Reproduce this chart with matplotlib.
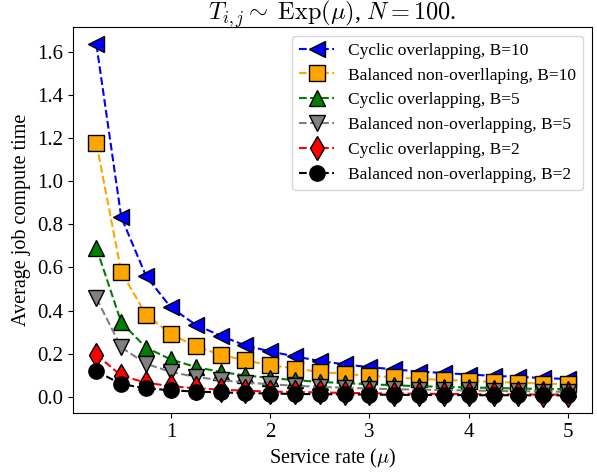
import numpy as np
import matplotlib
matplotlib.use('Agg')
import matplotlib.pyplot as plt

plt.rcParams['font.family'] = ['Liberation Serif', 'DejaVu Serif']
plt.rcParams['mathtext.fontset'] = 'cm'

# service rates mu
mu = [0.25, 0.5, 0.75, 1.0, 1.25, 1.5, 1.75, 2.0, 2.25, 2.5,
      2.75, 3.0, 3.25, 3.5, 3.75, 4.0, 4.25, 4.5, 4.75, 5.0]

# average job compute time for each scheme
cyc_b10 = [1.634, 0.833, 0.560, 0.414, 0.334, 0.283, 0.238, 0.210, 0.187, 0.166,
           0.150, 0.137, 0.127, 0.117, 0.110, 0.103, 0.097, 0.092, 0.087, 0.082]
bal_b10 = [1.175, 0.580, 0.380, 0.291, 0.234, 0.195, 0.169, 0.146, 0.131, 0.115,
           0.106, 0.097, 0.090, 0.083, 0.078, 0.073, 0.069, 0.065, 0.061, 0.058]
cyc_b5 = [0.690, 0.345, 0.228, 0.173, 0.138, 0.115, 0.099, 0.087, 0.077, 0.069,
          0.063, 0.058, 0.053, 0.049, 0.046, 0.043, 0.041, 0.038, 0.036, 0.035]
bal_b5 = [0.457, 0.229, 0.153, 0.115, 0.092, 0.077, 0.066, 0.058, 0.051, 0.046,
          0.042, 0.038, 0.035, 0.033, 0.031, 0.029, 0.027, 0.026, 0.024, 0.023]
cyc_b2 = [0.195, 0.098, 0.065, 0.049, 0.039, 0.033, 0.028, 0.024, 0.022, 0.020,
          0.018, 0.016, 0.015, 0.014, 0.013, 0.012, 0.011, 0.011, 0.010, 0.010]
bal_b2 = [0.118, 0.059, 0.039, 0.030, 0.024, 0.020, 0.017, 0.015, 0.013, 0.012,
          0.011, 0.010, 0.009, 0.008, 0.008, 0.007, 0.007, 0.007, 0.006, 0.006]

fig = plt.figure(figsize=(5.97, 4.72), dpi=100)
ax = fig.add_axes([0.122, 0.125, 0.869, 0.818])

ax.plot(mu, cyc_b10, '--', color='blue', marker='<', ms=12, mfc='blue', mec='black',
        label='Cyclic overlapping, B=10')
ax.plot(mu, bal_b10, '--', color='orange', marker='s', ms=12, mfc='orange', mec='black',
        label='Balanced non-overllaping, B=10')
ax.plot(mu, cyc_b5, '--', color='green', marker='^', ms=12, mfc='green', mec='black',
        label='Cyclic overlapping, B=5')
ax.plot(mu, bal_b5, '--', color='gray', marker='v', ms=12, mfc='gray', mec='black',
        label='Balanced non-overlapping, B=5')
ax.plot(mu, cyc_b2, '--', color='red', marker='d', ms=12, mfc='red', mec='black',
        label='Cyclic overlapping, B=2')
ax.plot(mu, bal_b2, '--', color='black', marker='o', ms=11, mfc='black', mec='black',
        label='Balanced non-overlapping, B=2')

ax.set_title(r'$T_{i,j}\sim$ $\mathrm{Exp}(\mu)$, $N=100$.', fontsize=17.5, y=1.0, pad=5)
ax.set_xlabel(r'Service rate ($\mu$)', fontsize=14.5)
ax.set_ylabel('Average job compute time', fontsize=14.5)
ax.tick_params(labelsize=15)
ax.legend(loc='upper right', fontsize=12.5)

plt.savefig('out.png', dpi=100)
